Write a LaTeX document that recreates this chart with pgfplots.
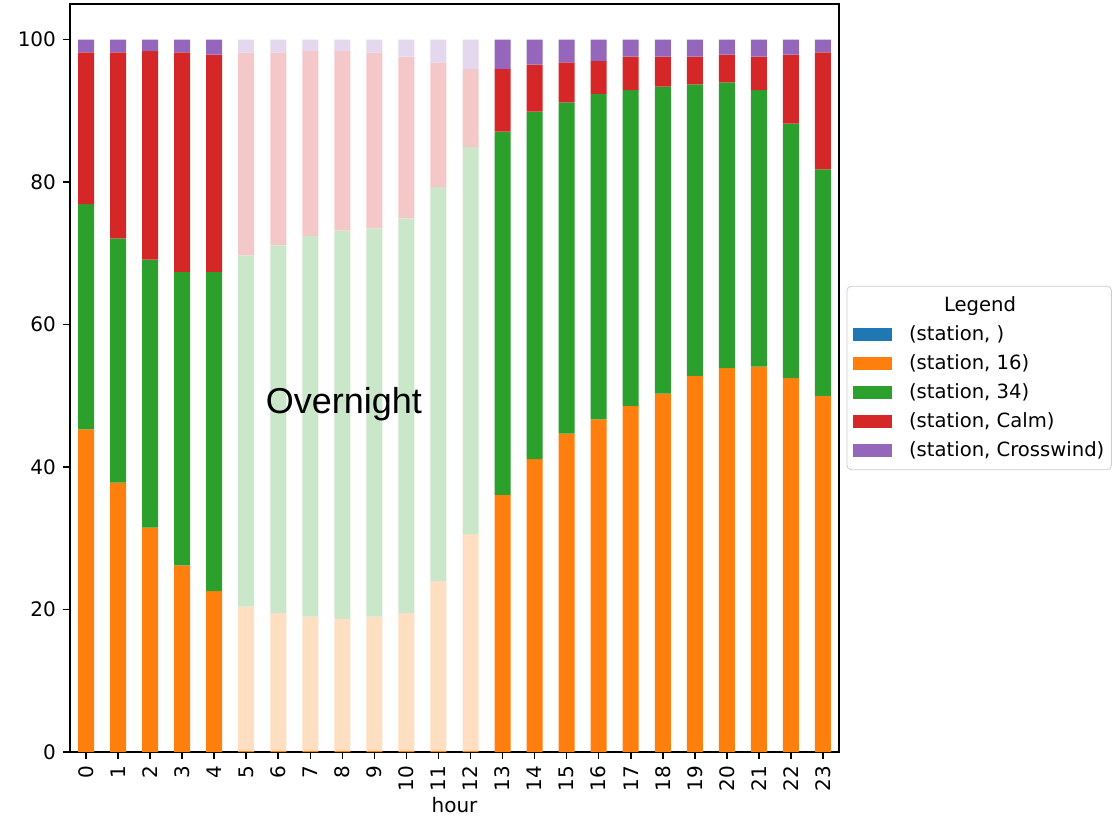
\documentclass[border=0pt]{standalone}
\usepackage{pgfplots}
\usepackage{pgfplotstable}
\pgfplotsset{compat=1.18}
\usepackage{fontspec}
\setmainfont{DejaVu Sans}
\newfontfamily\arialfont{Liberation Sans}

\definecolor{tabblue}{HTML}{1F77B4}
\definecolor{taborange}{HTML}{FF7F0E}
\definecolor{tabgreen}{HTML}{2CA02C}
\definecolor{tabred}{HTML}{D62728}
\definecolor{tabpurple}{HTML}{9467BD}

% share of each runway direction per hour (percent)
\pgfplotstableread{
hour blank s16  s34  calm cross
0    0     45.3 31.6 21.3 1.8
1    0     37.8 34.3 26.1 1.8
2    0     31.5 37.6 29.3 1.6
3    0     26.2 41.2 30.8 1.8
4    0     22.6 44.8 30.5 2.1
5    0     20.4 49.3 28.5 1.8
6    0     19.5 51.6 27.1 1.8
7    0     19.0 53.4 26.0 1.6
8    0     18.7 54.5 25.2 1.6
9    0     19.0 54.5 24.7 1.8
10   0     19.5 55.4 22.7 2.4
11   0     24.0 55.3 17.5 3.2
12   0     30.6 54.3 11.0 4.1
13   0     36.1 51.0 8.8  4.1
14   0     41.1 48.8 6.6  3.5
15   0     44.7 46.5 5.6  3.2
16   0     46.7 45.7 4.6  3.0
17   0     48.6 44.3 4.7  2.4
18   0     50.3 43.1 4.2  2.4
19   0     52.8 40.9 3.9  2.4
20   0     53.9 40.1 3.9  2.1
21   0     54.1 38.8 4.7  2.4
22   0     52.5 35.7 9.7  2.1
23   0     50.0 31.8 16.4 1.8
}\windtable

\begin{document}
\begin{tikzpicture}
\begin{axis}[
    scale only axis,
    width=384.5pt, height=374pt,
    ybar stacked, reverse stacked plots=false, bar width=0.5,
    xmin=-0.5, xmax=23.5, ymin=0, ymax=105,
    xtick={0,...,23}, ytick={0,20,...,100},
    tick pos=left, tick align=outside,
    major tick length=3.5pt,
    tick style={black, line width=0.8pt},
    axis line style={black, line width=0.8pt},
    /pgf/number format/assume math mode=true,
    tick label style={font=\fontsize{10}{12}\selectfont},
    xticklabel style={rotate=90, anchor=east},
    xlabel={hour},
    xlabel style={font=\fontsize{10}{12}\selectfont, yshift=4pt},
    every axis plot post/.append style={
        legend image code/.code={\fill[##1, sharp corners] (0pt,-3.3pt) rectangle (19.5pt,3.3pt);}},
    legend style={at={(1.01,0.5)}, anchor=west,
        draw=black!20, rounded corners=2pt, fill=white,
        font=\fontsize{9.8}{12}\selectfont,
        row sep=1.6pt, inner xsep=3pt, inner ysep=3pt,
        nodes={inner xsep=0.5pt},
        /tikz/every odd column/.append style={column sep=8pt}},
    legend cell align=left,
]
\addlegendimage{fill=white, draw=none}
\addlegendentry{\hspace{17.5pt}Legend}
\addplot[fill=tabblue, draw=none] table[x=hour, y=blank]{\windtable};
\addlegendentry{(station, )}
\addplot[fill=taborange, draw=none] table[x=hour, y=s16]{\windtable};
\addlegendentry{(station, 16)}
\addplot[fill=tabgreen, draw=none] table[x=hour, y=s34]{\windtable};
\addlegendentry{(station, 34)}
\addplot[fill=tabred, draw=none] table[x=hour, y=calm]{\windtable};
\addlegendentry{(station, Calm)}
\addplot[fill=tabpurple, draw=none] table[x=hour, y=cross]{\windtable};
\addlegendentry{(station, Crosswind)}
% fade the overnight hours
\fill[white, fill opacity=0.75] (axis cs:4.6,0.2) rectangle (axis cs:12.4,100.5);
\node[font=\arialfont\fontsize{18}{20}\selectfont, text=black, text opacity=1]
    at (axis cs:8.05,48.8) {Overnight};
\coordinate (bl) at (rel axis cs:0,0);
\end{axis}
\path (bl) ++(-35pt,-33pt) rectangle ++(557pt,409pt);
\end{tikzpicture}
\end{document}
